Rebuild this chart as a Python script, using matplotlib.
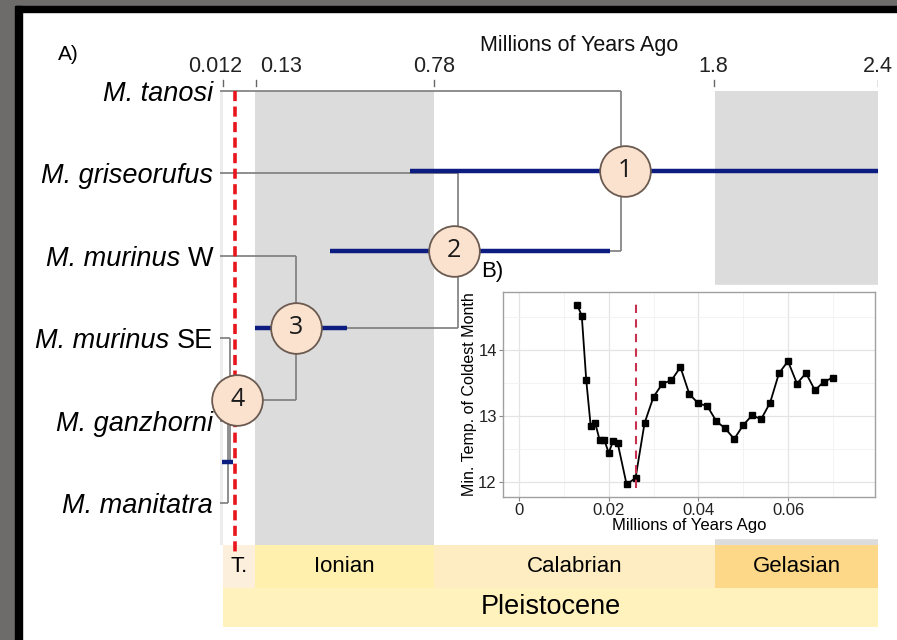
import matplotlib
matplotlib.use('Agg')
import matplotlib.pyplot as plt
from matplotlib.patches import Rectangle
import matplotlib.transforms as mtransforms
import numpy as np

plt.rcParams['font.family'] = ['Liberation Sans', 'DejaVu Sans']

# --- tree data (ages in millions of years ago) ---
tip_italic = ['M. tanosi', 'M. griseorufus', 'M. murinus', 'M. murinus', 'M. ganzhorni', 'M. manitatra']
tip_suffix = ['', '', 'W', 'SE', '', '']
node_ids = [1, 2, 3, 4, 5]
node_children = {1: ('t0', 'n2'), 2: ('t1', 'n3'), 3: ('t2', 'n4'), 4: ('t3', 'n5'), 5: ('t4', 't5')}
node_age = [1.462, 0.868, 0.277, 0.037, 0.031]
hpd_low = [0.693, 0.401, 0.128, np.nan, 0.007]
hpd_high = [2.40, 1.422, 0.463, np.nan, 0.047]
node_labels = ['1', '2', '3', '4', '']
divergence_line = 0.055

# time scale
tick_vals = [0.012, 0.13, 0.78, 1.8, 2.4]
tick_labels = ['0.012', '0.13', '0.78', '1.8', '2.4']
stages = ['T.', 'Ionian', 'Calabrian', 'Gelasian']
stage_start = [0.0117, 0.126, 0.781, 1.806]
stage_end = [0.126, 0.781, 1.806, 2.4]
epoch = 'Pleistocene'
epoch_start, epoch_end = 0.0117, 2.4
holocene = (0, 0.0117)

# --- inset: min temperature of coldest month ---
temp_x = [0.013, 0.014, 0.015, 0.016, 0.017, 0.018, 0.019, 0.020, 0.021, 0.022,
          0.024, 0.026, 0.028, 0.030, 0.032, 0.034, 0.036, 0.038, 0.040, 0.042,
          0.044, 0.046, 0.048, 0.050, 0.052, 0.054, 0.056, 0.058, 0.060, 0.062,
          0.064, 0.066, 0.068, 0.070]
temp_y = [14.68, 14.52, 13.54, 12.84, 12.89, 12.63, 12.64, 12.44, 12.62, 12.59,
          11.96, 12.06, 12.89, 13.29, 13.49, 13.54, 13.74, 13.33, 13.19, 13.15,
          12.92, 12.81, 12.65, 12.86, 13.01, 12.95, 13.20, 13.65, 13.83, 13.49,
          13.65, 13.39, 13.52, 13.58]
temp_event = 0.026

W, H = 897, 640
fig = plt.figure(figsize=(W / 100, H / 100), dpi=100)
fig.patch.set_facecolor('white')

# outer frame
fig.add_artist(Rectangle((0, 1 - 6 / H), 1, 6 / H, transform=fig.transFigure, color='#6e6b6b', zorder=10))
fig.add_artist(Rectangle((15 / W, 1 - 12 / H), 1, 6 / H, transform=fig.transFigure, color='black', zorder=10))
fig.add_artist(Rectangle((0, 0), 15 / W, 1, transform=fig.transFigure, color='#6e6b6b', zorder=10))
fig.add_artist(Rectangle((15 / W, 0), 7 / W, 1 - 6 / H, transform=fig.transFigure, color='black', zorder=10))

# main axes: rows of tips, 82.4 px apart, first tip at 91 px from top
row_px, top_px = 82.4, 91
def row(py):
    return (py - top_px) / row_px

ax = fig.add_axes([220 / W, 0, 658 / W, 1])
ax.set_zorder(1)
ax.set_xlim(0, 2.4)
ax.set_ylim(row(H), row(0))
ax.axis('off')

band_bot = row(545)
ax.fill_between(holocene, 0, band_bot, color='#ececec', lw=0, zorder=0)
for s, e, name in zip(stage_start, stage_end, stages):
    if name in ('Ionian', 'Gelasian'):
        ax.fill_between([s, e], 0, band_bot, color='#dcdcdc', lw=0, zorder=0)

# stage / epoch boxes
stage_colors = ['#fcefdc', '#fff0ae', '#feedc2', '#fcd888']
for s, e, name, c in zip(stage_start, stage_end, stages, stage_colors):
    ax.fill_between([s, e], band_bot, row(588), color=c, lw=0, zorder=0)
    ax.text((s + e) / 2, (band_bot + row(588)) / 2, name, ha='center', va='center', fontsize=16)
ax.fill_between([epoch_start, epoch_end], row(588), row(627), color='#fff2bd', lw=0, zorder=0)
ax.text((epoch_start + epoch_end) / 2, (row(588) + row(627)) / 2, epoch, ha='center', va='center', fontsize=19.5)

# tree layout
ypos = {f't{i}': float(i) for i in range(len(tip_italic))}
xpos = {f't{i}': 0.0 for i in range(len(tip_italic))}
for nid, age in zip(node_ids, node_age):
    xpos[f'n{nid}'] = age
for nid in reversed(node_ids):
    a, b = node_children[nid]
    ypos[f'n{nid}'] = (ypos[a] + ypos[b]) / 2

line_c = '#7c7c7c'
for nid in node_ids:
    key = f'n{nid}'
    ys = [ypos[c] for c in node_children[nid]]
    ax.plot([xpos[key], xpos[key]], [min(ys), max(ys)], color=line_c, lw=1.2, zorder=2, solid_capstyle='butt')
    for c in node_children[nid]:
        ax.plot([xpos[c], xpos[key]], [ypos[c], ypos[c]], color=line_c, lw=1.2, zorder=2, solid_capstyle='butt')

for nid, lo, hi in zip(node_ids, hpd_low, hpd_high):
    if not np.isnan(lo):
        y = ypos[f'n{nid}']
        ax.plot([lo, hi], [y, y], color='#0c1c80', lw=3.2, zorder=3, solid_capstyle='butt')

ax.vlines(divergence_line, 0, row(552), color='#e8161c', lw=2.6, linestyles=(0, (2.8, 1.5)), zorder=4)

# node badges, nudged sideways a few pixels like the original
badge_nudge = {1: 4, 2: -4, 4: 7}
for nid, lab in zip(node_ids, node_labels):
    if lab:
        key = f'n{nid}'
        tr = mtransforms.offset_copy(ax.transData, fig=fig, x=badge_nudge.get(nid, 0), y=0, units='dots')
        ax.plot(xpos[key], ypos[key], 'o', ms=36.5, mfc='#fbe2cf', mec='#6b5a50', mew=1.3,
                zorder=5, clip_on=False, transform=tr)
        ax.text(xpos[key], ypos[key], lab, ha='center', va='center', fontsize=18,
                fontfamily='Open Sans', color='#1a1a1a', zorder=6, transform=tr)

# tip labels: italic genus/species, upright population suffix
renderer = fig.canvas.get_renderer()
for i, (name, suf) in enumerate(zip(tip_italic, tip_suffix)):
    shift = -5
    if suf:
        t = ax.annotate(suf, xy=(0, i), xytext=(shift, 0), textcoords='offset points',
                        ha='right', va='center_baseline', fontsize=19.5)
        shift -= t.get_window_extent(renderer).width * 72 / fig.dpi + 5.5
    ax.annotate(name, xy=(0, i), xytext=(shift, 0), textcoords='offset points',
                ha='right', va='center_baseline', fontsize=19.5, fontstyle='italic')

# top time axis
tick_nudge = {'0.012': -8, '0.13': 25}
for v, lab in zip(tick_vals, tick_labels):
    ax.plot([v, v], [row(80), row(86)], color='#666666', lw=1.0)
    ax.annotate(lab, xy=(v, row(72)), xytext=(tick_nudge.get(lab, 0) * 0.72, 0), textcoords='offset points',
                ha='center', va='baseline', fontsize=15.5, color='#222222')
ax.text(1.31, row(45), 'Millions of Years Ago', ha='center', va='center', fontsize=15.5, color='#111111')
fig.text(68 / W, 1 - 54 / H, 'A)', ha='center', va='center', fontsize=15)

# white backing for the inset
fig.add_artist(Rectangle((470 / W, 1 - 538 / H), 408 / W, 253 / H, transform=fig.transFigure,
                         color='white', zorder=2))

# inset B
ix = fig.add_axes([503 / W, 1 - 497 / H, 372 / W, 205 / H])
ix.set_zorder(3)
ix.plot(temp_x, temp_y, '-s', color='black', lw=1.3, ms=3.8)
ix.vlines(temp_event, 11.9, 14.75, color='#c83050', lw=1.5, linestyles=(0, (4, 3)))
ix.set_xlim(-0.00357, 0.0794)
ix.set_ylim(11.77, 14.88)
ix.set_xticks([0, 0.02, 0.04, 0.06])
ix.set_xticklabels(['0', '0.02', '0.04', '0.06'])
ix.set_yticks([12, 13, 14])
ix.set_xticks([0.01, 0.03, 0.05, 0.07], minor=True)
ix.set_yticks([12.5, 13.5, 14.5], minor=True)
ix.grid(True, which='major', color='#e4e4e4', lw=0.9)
ix.grid(True, which='minor', color='#f1f1f1', lw=0.6)
ix.set_axisbelow(True)
ix.tick_params(which='major', labelsize=12, length=3, color='#888888', labelcolor='#222222', pad=1.5)
ix.tick_params(which='minor', length=0)
for sp in ix.spines.values():
    sp.set_color('#a0a0a0')
    sp.set_linewidth(1.0)
ix.set_xlabel('Millions of Years Ago', fontsize=12, labelpad=0)
ix.set_ylabel('Min. Temp. of Coldest Month', fontsize=11.5, labelpad=1)
fig.text(492 / W, 1 - 272 / H, 'B)', ha='center', va='center', fontsize=16)

fig.savefig('out.png', dpi=100)
